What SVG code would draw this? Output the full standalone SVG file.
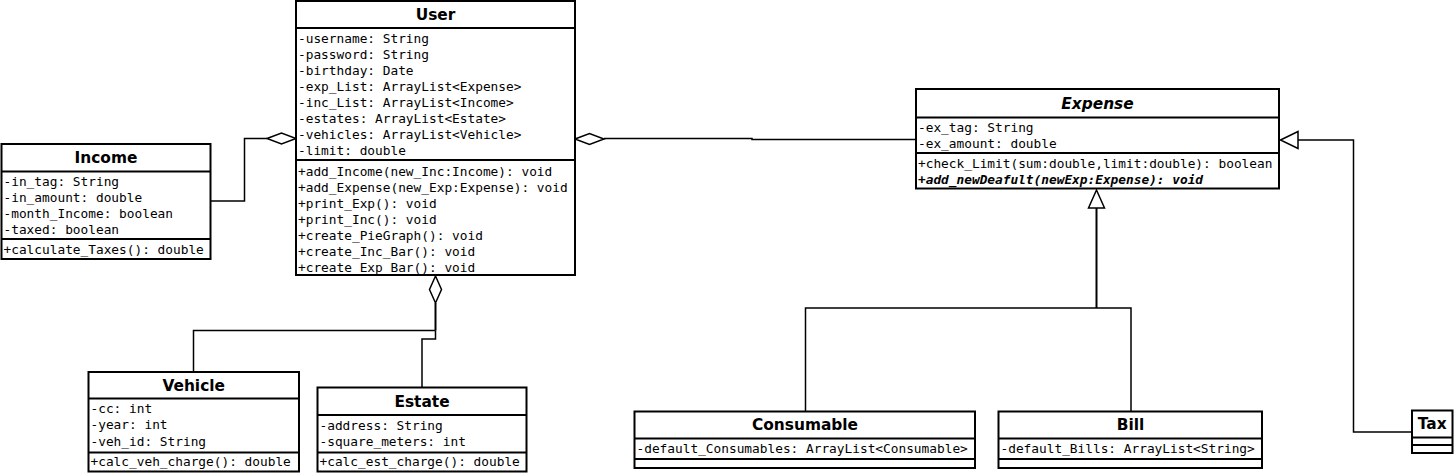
<svg xmlns="http://www.w3.org/2000/svg" width="1456" height="473" viewBox="0 0 1456 473">
<style>
.box{fill:#fff;stroke:#000;stroke-width:2}
.sep{stroke:#000;stroke-width:2;fill:none}
.t{font-family:"DejaVu Sans",sans-serif;font-weight:bold;font-size:15.4px;text-anchor:middle;fill:#000}
.a{font-family:"DejaVu Sans Mono",monospace;font-size:12.8px;fill:#000}
.c{fill:none;stroke:#000;stroke-width:1.5}
.ck{fill:none;stroke:#000;stroke-width:2}
.hd{fill:#fff;stroke:#000;stroke-width:1.5}
</style>
<rect width="1456" height="473" fill="#fff"/>
<g id="connectors">
<path class="c" d="M211,201 H244.5 V138.5 H267"/>
<polygon class="hd" points="267,138.5 281.5,133 296,138.5 281.5,144"/>
<path class="c" d="M604,138.5 H752 V139.5 H916"/>
<polygon class="hd" points="575,139 589.5,133.5 604,139 589.5,144.5"/>
<path class="ck" d="M435.5,303 V330.5"/>
<path class="c" d="M435.5,330.5 H193.5 V372"/>
<path class="c" d="M435.5,330.5 V339 H422 V387.5"/>
<polygon class="hd" points="435.5,276 441.5,289.5 435.5,303 429.5,289.5"/>
<path class="ck" d="M1096.5,208 V308"/>
<path class="c" d="M805.5,411.5 V308 H1131 V411.5"/>
<polygon class="hd" points="1096.5,190 1088.5,208 1104.5,208"/>
<path class="c" d="M1298,140 H1353.5 V432 H1412"/>
<polygon class="hd" points="1280.5,140 1298,131.5 1298,148.5"/>
</g>
<g id="User">
<rect class="box" x="296" y="1" width="279" height="274"/>
<line class="sep" x1="296" y1="28" x2="575" y2="28"/>
<line class="sep" x1="296" y1="160" x2="575" y2="160"/>
<text class="t" x="435.5" y="20">User</text>
<text class="a" x="298" y="43">-username: String</text>
<text class="a" x="298" y="59">-password: String</text>
<text class="a" x="298" y="75">-birthday: Date</text>
<text class="a" x="298" y="91">-exp_List: ArrayList&lt;Expense&gt;</text>
<text class="a" x="298" y="107">-inc_List: ArrayList&lt;Income&gt;</text>
<text class="a" x="298" y="123">-estates: ArrayList&lt;Estate&gt;</text>
<text class="a" x="298" y="139">-vehicles: ArrayList&lt;Vehicle&gt;</text>
<text class="a" x="298" y="155">-limit: double</text>
<text class="a" x="298" y="176">+add_Income(new_Inc:Income): void</text>
<text class="a" x="298" y="192">+add_Expense(new_Exp:Expense): void</text>
<text class="a" x="298" y="208">+print_Exp(): void</text>
<text class="a" x="298" y="224">+print_Inc(): void</text>
<text class="a" x="298" y="240">+create_PieGraph(): void</text>
<text class="a" x="298" y="256">+create_Inc_Bar(): void</text>
<text class="a" x="298" y="272">+create_Exp_Bar(): void</text>
</g>
<g id="Income">
<rect class="box" x="1.5" y="144" width="209" height="115"/>
<line class="sep" x1="1.5" y1="171.5" x2="210.5" y2="171.5"/>
<line class="sep" x1="1.5" y1="239" x2="210.5" y2="239"/>
<text class="t" x="106" y="163">Income</text>
<text class="a" x="3.5" y="186">-in_tag: String</text>
<text class="a" x="3.5" y="202">-in_amount: double</text>
<text class="a" x="3.5" y="218">-month_Income: boolean</text>
<text class="a" x="3.5" y="234">-taxed: boolean</text>
<text class="a" x="3.5" y="254">+calculate_Taxes(): double</text>
</g>
<g id="Expense">
<rect class="box" x="916" y="89" width="363" height="99.5"/>
<line class="sep" x1="916" y1="117.5" x2="1279" y2="117.5"/>
<line class="sep" x1="916" y1="153" x2="1279" y2="153"/>
<text class="t" x="1097.5" y="108.5" font-style="italic">Expense</text>
<text class="a" x="918" y="132">-ex_tag: String</text>
<text class="a" x="918" y="147.5">-ex_amount: double</text>
<text class="a" x="918" y="167.5">+check_Limit(sum:double,limit:double): boolean</text>
<text class="a" x="918" y="183.5" font-weight="bold" font-style="italic">+add_newDeafult(newExp:Expense): void</text>
</g>
<g id="Vehicle">
<rect class="box" x="88.5" y="372" width="210.5" height="99.5"/>
<line class="sep" x1="88.5" y1="398.5" x2="299" y2="398.5"/>
<line class="sep" x1="88.5" y1="452.5" x2="299" y2="452.5"/>
<text class="t" x="193.7" y="391">Vehicle</text>
<text class="a" x="90.5" y="413">-cc: int</text>
<text class="a" x="90.5" y="429">-year: int</text>
<text class="a" x="90.5" y="445.5">-veh_id: String</text>
<text class="a" x="90.5" y="466">+calc_veh_charge(): double</text>
</g>
<g id="Estate">
<rect class="box" x="317.5" y="387.5" width="209" height="84"/>
<line class="sep" x1="317.5" y1="415" x2="526.5" y2="415"/>
<line class="sep" x1="317.5" y1="452.5" x2="526.5" y2="452.5"/>
<text class="t" x="422" y="407">Estate</text>
<text class="a" x="319.5" y="429.5">-address: String</text>
<text class="a" x="319.5" y="445.5">-square_meters: int</text>
<text class="a" x="319.5" y="466">+calc_est_charge(): double</text>
</g>
<g id="Consumable">
<rect class="box" x="634.5" y="411.5" width="340.5" height="56.5"/>
<line class="sep" x1="634.5" y1="438.5" x2="975" y2="438.5"/>
<line class="sep" x1="634.5" y1="459" x2="975" y2="459"/>
<text class="t" x="805" y="430">Consumable</text>
<text class="a" x="636.5" y="453">-default_Consumables: ArrayList&lt;Consumable&gt;</text>
</g>
<g id="Bill">
<rect class="box" x="998.5" y="411.5" width="263.5" height="56.5"/>
<line class="sep" x1="998.5" y1="438.5" x2="1262" y2="438.5"/>
<line class="sep" x1="998.5" y1="459" x2="1262" y2="459"/>
<text class="t" x="1130.5" y="430">Bill</text>
<text class="a" x="1000.5" y="453">-default_Bills: ArrayList&lt;String&gt;</text>
</g>
<g id="Tax">
<rect class="box" x="1412" y="410.5" width="40.5" height="42.5"/>
<line class="sep" x1="1412" y1="437.5" x2="1452.5" y2="437.5"/>
<line class="sep" x1="1412" y1="445" x2="1452.5" y2="445"/>
<text class="t" x="1432.2" y="428.5">Tax</text>
</g>
</svg>
